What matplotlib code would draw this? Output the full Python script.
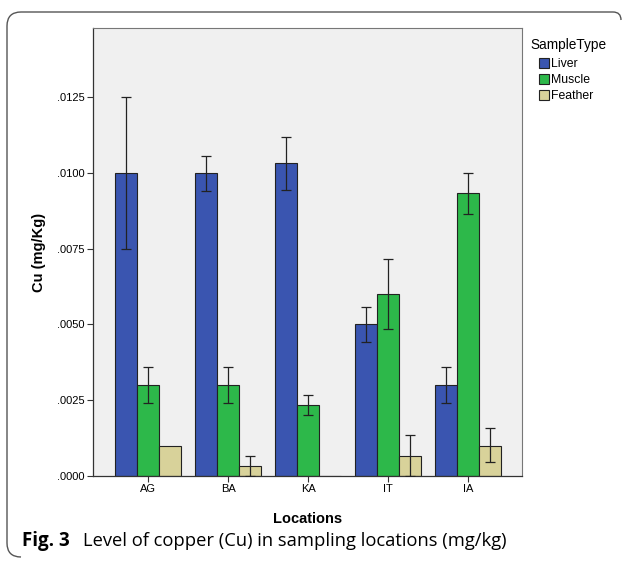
import matplotlib
matplotlib.use("Agg")
import matplotlib.pyplot as plt
import numpy as np
from matplotlib.patches import Patch, PathPatch
from matplotlib.path import Path

locations = ["AG", "BA", "KA", "IT", "IA"]
sample_types = ["Liver", "Muscle", "Feather"]
liver = [0.0100, 0.0100, 0.01033, 0.0050, 0.0030]
liver_lo = [0.0075, 0.0094, 0.00945, 0.00442, 0.0024]
liver_hi = [0.0125, 0.01055, 0.0112, 0.00556, 0.00358]
muscle = [0.0030, 0.0030, 0.00233, 0.0060, 0.00933]
muscle_lo = [0.0024, 0.0024, 0.0020, 0.00485, 0.00866]
muscle_hi = [0.0036, 0.0036, 0.00267, 0.00716, 0.0100]
feather = [0.0010, 0.00033, 0.0, 0.00067, 0.0010]
feather_lo = [np.nan, 0.0, np.nan, 0.0, 0.00045]
feather_hi = [np.nan, 0.00067, np.nan, 0.00135, 0.00158]
yticks = [0.0, 0.0025, 0.0050, 0.0075, 0.0100, 0.0125]
ytick_labels = [".0000", ".0025", ".0050", ".0075", ".0100", ".0125"]

colors = ["#3A55B0", "#2DB84A", "#D8D29A"]
W, H = 627, 561
fig = plt.figure(figsize=(W / 100, H / 100), dpi=100)
fig.patch.set_facecolor("white")

L, R, T, B = 93, 522, 28, 476
ax = fig.add_axes([L / W, 1 - B / H, (R - L) / W, (B - T) / H])
ax.set_facecolor("#F0F0F0")

x = np.arange(len(locations))
bw = 0.275
series = [(liver, liver_lo, liver_hi), (muscle, muscle_lo, muscle_hi), (feather, feather_lo, feather_hi)]
for i, (vals, lo, hi) in enumerate(series):
    pos = x + (i - 1) * bw
    vals = np.array(vals)
    lo = np.array(lo, dtype=float)
    hi = np.array(hi, dtype=float)
    ax.bar(pos, vals, width=bw, color=colors[i], edgecolor="#222222", linewidth=0.8, zorder=2)
    mask = ~np.isnan(lo)
    ax.errorbar(pos[mask], vals[mask], yerr=[vals[mask] - lo[mask], hi[mask] - vals[mask]],
                fmt="none", ecolor="#222222", elinewidth=0.9, capsize=3.5, capthick=0.9, zorder=3)

ax.set_xlim(-0.6875, 4.675)
ax.set_ylim(0, 0.01478)
ax.set_xticks(x)
ax.set_xticklabels(locations, fontsize=8, family="Liberation Sans")
ax.set_yticks(yticks)
ax.set_yticklabels(ytick_labels, fontsize=8, family="Liberation Sans")
ax.tick_params(axis="both", direction="out", length=4, width=0.8, color="#333333", pad=2)
for s in ["left", "bottom"]:
    ax.spines[s].set_color("#333333")
    ax.spines[s].set_linewidth(0.9)
for s in ["top", "right"]:
    ax.spines[s].set_color("#777777")
    ax.spines[s].set_linewidth(0.8)

ax.set_xlabel("Locations", fontsize=10.5, fontweight="bold", family="Liberation Sans", labelpad=13)
ax.set_ylabel("Cu (mg/Kg)", fontsize=10.5, fontweight="bold", family="Liberation Sans", labelpad=8)

fig.text(530 / W, 1 - 45 / H, "SampleType", fontsize=9.8, family="Liberation Sans",
         va="center", ha="left")
handles = [Patch(facecolor=c, edgecolor="#222222", linewidth=0.8) for c in colors]
leg = fig.legend(handles, sample_types, loc="upper left", bbox_to_anchor=(539 / W, 1 - 58 / H),
                 frameon=False, prop={"family": "Liberation Sans", "size": 8.8},
                 handlelength=0.85, handleheight=0.85, handletextpad=0.15, labelspacing=0.32,
                 borderpad=0.0, borderaxespad=0.0)

# outer rounded frame
r = 14
x0, y0, x1, y1 = 7, 12, 621, 557
def fx(px):
    return px / W
def fy(py):
    return 1 - py / H
verts = [
    (fx(x1), fy(y0 + 8)),
    (fx(x1), fy(y0)), (fx(x1 - 8), fy(y0)),
    (fx(x0 + r), fy(y0)),
    (fx(x0), fy(y0)), (fx(x0), fy(y0 + r)),
    (fx(x0), fy(y1 - r)),
    (fx(x0), fy(y1)), (fx(x0 + r), fy(y1)),
]
codes = [Path.MOVETO, Path.CURVE3, Path.CURVE3, Path.LINETO, Path.CURVE3, Path.CURVE3,
         Path.LINETO, Path.CURVE3, Path.CURVE3]
frame = PathPatch(Path(verts, codes), transform=fig.transFigure, fill=False,
                  edgecolor="#555555", linewidth=1.0)
fig.patches.append(frame)

fig.text(22 / W, 1 - 541 / H, "Fig. 3", fontsize=13.5, fontweight="bold", family="Open Sans",
         va="center", ha="left")
fig.text(83 / W, 1 - 541 / H, "Level of copper (Cu) in sampling locations (mg/kg)", fontsize=13.2,
         family="Open Sans", va="center", ha="left")

fig.savefig("out.png", dpi=100)
